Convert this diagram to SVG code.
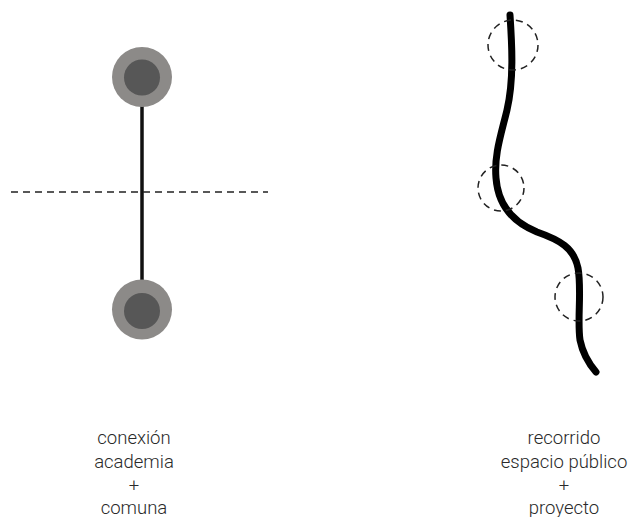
<svg xmlns="http://www.w3.org/2000/svg" width="631" height="517" viewBox="0 0 631 517">
<style>
.outer{fill:#8c8a88}
.inner{fill:#575757}
.dash{fill:none;stroke:#222;stroke-width:1.5;stroke-dasharray:7 5}
.lbl{font-family:"Roboto Light",Roboto,"Liberation Sans",sans-serif;font-weight:300;font-size:18.5px;fill:#2a2a2a;text-anchor:middle}
</style>
<rect width="631" height="517" fill="#fff"/>
<g id="connectors">
<line x1="142" y1="100" x2="142" y2="285" stroke="#111" stroke-width="3.5"/>
<line class="dash" x1="11" y1="192" x2="268" y2="192"/>
<path d="M510,15 C512,45 514,80 507,110 C501,135 494,155 496,178 C498,205 512,222 537,232 C560,240 574,248 578,268 C582,290 577,320 580,340 C583,355 590,365 596,372" fill="none" stroke="#000" stroke-width="7" stroke-linecap="round"/>
</g>
<g id="node-top">
<circle class="outer" cx="142" cy="77" r="30"/>
<circle class="inner" cx="142" cy="77.5" r="18"/>
</g>
<g id="node-bottom">
<circle class="outer" cx="142" cy="309.5" r="30"/>
<circle class="inner" cx="142" cy="311" r="18"/>
</g>
<g id="marker-1"><circle class="dash" cx="513" cy="45" r="25"/></g>
<g id="marker-2"><circle class="dash" cx="501" cy="188" r="23"/></g>
<g id="marker-3"><circle class="dash" cx="579" cy="297" r="24"/></g>
<g id="label-left">
<text class="lbl" x="134" y="444">conexión</text>
<text class="lbl" x="134" y="468">academia</text>
<text class="lbl" x="134" y="491">+</text>
<text class="lbl" x="134" y="514">comuna</text>
</g>
<g id="label-right">
<text class="lbl" x="564" y="444">recorrido</text>
<text class="lbl" x="564" y="468">espacio público</text>
<text class="lbl" x="564" y="491">+</text>
<text class="lbl" x="564" y="514">proyecto</text>
</g>
</svg>
